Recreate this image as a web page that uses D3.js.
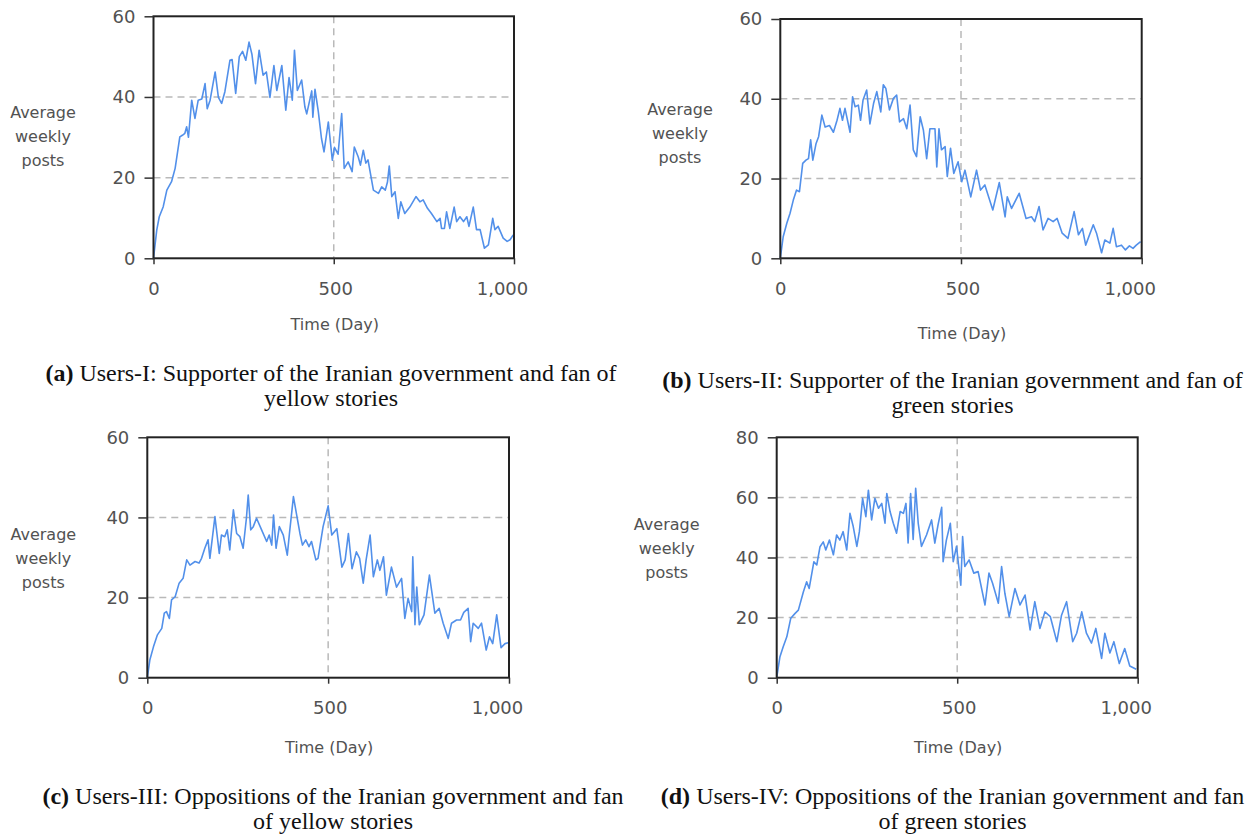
<!DOCTYPE html>
<html>
<head>
<meta charset="utf-8">
<script src="https://cdn.jsdelivr.net/npm/d3@7"></script>
<style>
  html, body { margin: 0; padding: 0; background: #fff; }
  svg { display: block; }
</style>
</head>
<body>
<svg id="chart" width="1254" height="837"></svg>
<script>
// ---------------- DATA ----------------
const xTicks = [0, 500, 1000];
const yTicks60 = [0, 20, 40, 60];
const yTicks80 = [0, 20, 40, 60, 80];
const yGrid60 = [20, 40];
const yGrid80 = [20, 40, 60];
const xGrid = [500];
const xTitle = "Time (Day)";
const yTitleLines = ["Average", "weekly", "posts"];

const captionTags = ["(a)", "(b)", "(c)", "(d)"];
const captionLine1 = [
  " Users-I: Supporter of the Iranian government and fan of",
  " Users-II: Supporter of the Iranian government and fan of",
  " Users-III: Oppositions of the Iranian government and fan",
  " Users-IV: Oppositions of the Iranian government and fan"
];
const captionLine2 = ["yellow stories", "green stories", "of yellow stories", "of green stories"];

// [day, average weekly posts]
const seriesA = [[0,0],[9,7],[16,10.3],[27,12.8],[37,16.9],[50,19],[60,22.3],[73,30.1],[80,30.5],[87,31],[92,32.6],[97,30],[106,39.2],[115,34.7],[124,39.2],[134,39.5],[143,43.3],[149,37.1],[157,39.2],[171,46.2],[180,39.9],[189,38.4],[198,41.3],[212,49.1],[218,49.3],[228,40.9],[238,50],[247,51.3],[256,49.1],[265,53.6],[273,50.6],[283,43.3],[293,51.6],[304,45.4],[313,46.2],[323,39.9],[334,47.8],[342,41.6],[356,47.8],[367,36.7],[376,44.8],[385,39.2],[391,51.6],[399,41.6],[411,44.2],[420,37.5],[425,35.8],[439,41.5],[442,35],[448,41.9],[457,36.5],[466,29.7],[473,26.4],[485,33.8],[496,24.3],[502,27.5],[512,25.8],[522,35.9],[529,22.3],[540,23.9],[551,21.5],[557,27.6],[568,25.1],[574,23.1],[582,26.8],[589,23.6],[595,24.4],[610,16.9],[624,16.1],[633,17.7],[643,16.9],[649,18.9],[654,22.9],[661,15.3],[670,16.5],[679,9.9],[686,14],[697,11.1],[711,12.7],[728,15.3],[739,14],[748,14.5],[760,12.4],[771,11.1],[786,9.1],[795,9.9],[799,7.4],[807,7.4],[813,11.5],[822,7.4],[834,12.7],[841,9.1],[850,10.3],[860,9.1],[869,10.3],[875,7.9],[887,12.7],[896,7.1],[906,7.1],[918,2.5],[929,3.3],[941,9.9],[947,7.1],[956,7.9],[970,5],[981,4.2],[989,4.6],[998,5.8]];

const seriesB = [[0,0],[8,5.4],[18,8.8],[27,11.3],[36,14.6],[45,17.1],[53,16.7],[62,23.8],[71,24.6],[78,25],[84,29.7],[90,24.6],[99,28.8],[106,30.5],[115,35.9],[124,32.9],[136,33.3],[147,31.6],[157,34.6],[165,37.6],[172,34.6],[179,37.6],[193,31.6],[200,40.5],[207,38],[216,38.4],[222,34.6],[229,39.7],[239,42.2],[248,33.7],[258,38.8],[267,41.8],[278,36.7],[285,43.5],[292,42.6],[302,37.2],[313,40.1],[322,40.9],[330,34.2],[341,35],[350,32.5],[359,38.4],[368,27.2],[377,25.5],[387,35.5],[396,32.1],[405,25],[414,32.5],[428,32.5],[433,22.9],[439,32.5],[446,27.2],[456,28],[462,20.5],[471,27.6],[480,21.3],[492,24.2],[502,19.2],[511,22.1],[527,15.4],[543,22.1],[554,17.1],[566,18.4],[588,12.1],[606,19],[622,10.4],[628,15.4],[640,12.5],[661,16.3],[680,10],[695,10.4],[704,9.2],[716,13],[727,7.1],[741,10],[755,9.2],[766,10],[780,6.3],[796,5],[813,11.7],[825,5.9],[836,7.5],[845,3.3],[866,8.4],[875,6.3],[889,1.4],[898,4.6],[912,3.8],[921,7.5],[930,2.9],[944,3.3],[955,2.1],[966,3.1],[976,2.5],[985,3.3],[997,4.2]];

const seriesC = [[0,0],[7,4.4],[17,7.7],[28,10.7],[40,12.3],[47,16.1],[53,16.5],[61,14.8],[67,19.4],[77,20.2],[88,23.6],[99,24.8],[109,29.4],[118,28.1],[132,29],[143,28.6],[150,29.8],[159,32.3],[168,34.4],[173,29.8],[187,40.2],[199,31],[205,35.6],[214,35.2],[221,36.9],[228,31.9],[238,41.9],[247,36],[256,35.2],[265,32.3],[274,39.8],[279,45.6],[286,36.9],[293,37.7],[302,39.8],[316,36.9],[330,34],[337,35.6],[344,33.1],[349,40.6],[356,32.3],[365,37.7],[376,35.6],[387,30.6],[393,36],[404,45.2],[413,40.6],[422,36],[429,33.1],[438,34.4],[447,32.7],[454,34],[466,29.4],[472,29.8],[486,37.7],[500,42.9],[510,35.6],[524,37.2],[538,27.6],[547,29.4],[556,36],[566,27.2],[578,31.4],[587,29.8],[597,23.6],[605,29.4],[616,35.6],[625,25.2],[636,29.4],[643,26.8],[653,30.2],[661,20.6],[675,27.6],[689,22.6],[703,24.8],[712,14.8],[721,19.8],[731,16.5],[734,30.2],[740,13.2],[745,22.6],[752,13.2],[765,15.7],[780,25.6],[795,16.1],[807,17.3],[818,13.6],[832,9.8],[841,13.6],[855,14.4],[866,14.4],[875,16.3],[887,17.3],[894,9],[901,13.6],[915,12.3],[924,13.6],[937,6.9],[946,10.2],[955,8.5],[966,15.7],[978,7.5],[989,8.5],[998,8.7]];

const seriesD = [[0,0],[9,7],[18,10.3],[28,13.6],[39,19.8],[51,21.4],[60,22.5],[74,28.6],[83,31.9],[90,29.7],[103,38.6],[111,37.5],[120,43.6],[129,45.2],[136,42.5],[146,45.8],[157,40.9],[166,47.5],[175,45.8],[184,48.6],[194,42.5],[203,54.7],[212,50.3],[222,43.7],[229,48.6],[238,59.7],[247,53.6],[254,62.4],[263,52.5],[272,59.7],[282,56.4],[291,58],[300,51.4],[305,61.3],[314,55.3],[323,51.4],[332,48.1],[342,55.3],[351,54.7],[358,58],[364,44.8],[371,61.3],[378,46],[385,63],[392,51.4],[401,43.7],[415,47.5],[429,52.5],[438,44.8],[447,50.9],[457,56.7],[461,38.6],[470,45.8],[481,51.4],[489,38.6],[498,43.7],[510,30.8],[515,47],[521,37],[533,39.2],[546,34.8],[558,35.3],[577,24.2],[588,34.8],[598,31.4],[614,24.8],[623,37],[632,28.1],[644,20.3],[660,29.7],[674,24.2],[688,27.5],[702,15.9],[715,25.3],[729,16.4],[743,21.9],[758,20.3],[776,12],[789,20.8],[803,25.3],[820,12],[831,14.8],[845,21.9],[858,14.8],[872,11.5],[884,16.4],[900,6.4],[909,14.8],[923,8.2],[934,12],[949,4.7],[964,9.7],[978,3.9],[996,2.8]];

// ---------------- LAYOUT ----------------
const panels = [
  {series: seriesA, yMax: 60, yTicks: yTicks60, yGrid: yGrid60,
   left: 153.5, right: 514, top: 16.3, bottom: 258.3,
   yLabX: 43, yLabY: 118, xTitleY: 330, capX: 331, capY: 381},
  {series: seriesB, yMax: 60, yTicks: yTicks60, yGrid: yGrid60,
   left: 780.3, right: 1141.7, top: 19, bottom: 258.3,
   yLabX: 680, yLabY: 115, xTitleY: 339, capX: 952.5, capY: 388},
  {series: seriesC, yMax: 60, yTicks: yTicks60, yGrid: yGrid60,
   left: 147.3, right: 509, top: 437.3, bottom: 677.7,
   yLabX: 43.3, yLabY: 540, xTitleY: 753, capX: 333, capY: 804},
  {series: seriesD, yMax: 80, yTicks: yTicks80, yGrid: yGrid80,
   left: 776.7, right: 1137.7, top: 437.3, bottom: 677.7,
   yLabX: 666.7, yLabY: 530, xTitleY: 753, capX: 952.5, capY: 804}
];

const svg = d3.select("#chart");
const sansFont = "'DejaVu Sans', Verdana, sans-serif";
const textGray = "#525252";

panels.forEach((p, i) => {
  const x = d3.scaleLinear().domain([0, 1000]).range([p.left, p.right]);
  const y = d3.scaleLinear().domain([0, p.yMax]).range([p.bottom, p.top]);
  const g = svg.append("g");

  // grid lines
  g.selectAll(".hgrid").data(p.yGrid).join("line")
    .attr("x1", p.left).attr("x2", p.right)
    .attr("y1", d => y(d)).attr("y2", d => y(d))
    .attr("stroke", "#b9b9b9").attr("stroke-width", 1.5)
    .attr("stroke-dasharray", "7,5");
  g.selectAll(".vgrid").data(xGrid).join("line")
    .attr("x1", d => x(d)).attr("x2", d => x(d))
    .attr("y1", p.top).attr("y2", p.bottom)
    .attr("stroke", "#b9b9b9").attr("stroke-width", 1.5)
    .attr("stroke-dasharray", "7,5");

  // data line
  const line = d3.line().x(d => x(d[0])).y(d => y(d[1]));
  g.append("path").datum(p.series)
    .attr("d", line)
    .attr("fill", "none")
    .attr("stroke", "#5290ea")
    .attr("stroke-width", 1.6)
    .attr("stroke-linejoin", "round");

  // frame
  g.append("rect")
    .attr("x", p.left).attr("y", p.top)
    .attr("width", p.right - p.left).attr("height", p.bottom - p.top)
    .attr("fill", "none").attr("stroke", "#222").attr("stroke-width", 2);

  // y axis
  const yAxis = d3.axisLeft(y).tickValues(p.yTicks).tickSize(9).tickPadding(9).tickSizeOuter(0);
  const ya = g.append("g").attr("transform", `translate(${p.left},0)`).call(yAxis);
  ya.select(".domain").remove();
  ya.selectAll(".tick line").attr("stroke", "#333").attr("stroke-width", 1.5);
  ya.selectAll(".tick text").attr("fill", textGray)
    .style("font-family", sansFont).style("font-size", "18px");

  // x axis
  const xAxis = d3.axisBottom(x).tickValues(xTicks).tickFormat(d3.format(",")).tickSize(6).tickPadding(18).tickSizeOuter(0);
  const xa = g.append("g").attr("transform", `translate(0,${p.bottom})`).call(xAxis);
  xa.select(".domain").remove();
  xa.selectAll(".tick line").attr("stroke", "#333").attr("stroke-width", 1.5);
  xa.selectAll(".tick text").attr("fill", textGray)
    .style("font-family", sansFont).style("font-size", "18px")
    .attr("dx", d => d === 1000 ? -12 : (d === 500 ? 1.5 : 0));

  // x title
  g.append("text")
    .attr("x", (p.left + p.right) / 2 + 1).attr("y", p.xTitleY)
    .attr("text-anchor", "middle")
    .attr("fill", textGray)
    .style("font-family", sansFont).style("font-size", "16px")
    .text(xTitle);

  // y title
  g.append("g").selectAll("text").data(yTitleLines).join("text")
    .attr("x", p.yLabX).attr("y", (d, k) => p.yLabY + k * 24)
    .attr("text-anchor", "middle")
    .attr("fill", textGray)
    .style("font-family", sansFont).style("font-size", "16px")
    .text(d => d);

  // caption
  const cap = g.append("text")
    .attr("x", p.capX).attr("y", p.capY)
    .attr("text-anchor", "middle")
    .attr("fill", "#111")
    .style("font-family", "'Liberation Serif', 'Times New Roman', serif")
    .style("font-size", "24px");
  cap.append("tspan").style("font-weight", "bold").text(captionTags[i]);
  cap.append("tspan").text(captionLine1[i]);
  g.append("text")
    .attr("x", p.capX).attr("y", p.capY + 25)
    .attr("text-anchor", "middle")
    .attr("fill", "#111")
    .style("font-family", "'Liberation Serif', 'Times New Roman', serif")
    .style("font-size", "24px")
    .text(captionLine2[i]);
});
</script>
</body>
</html>
